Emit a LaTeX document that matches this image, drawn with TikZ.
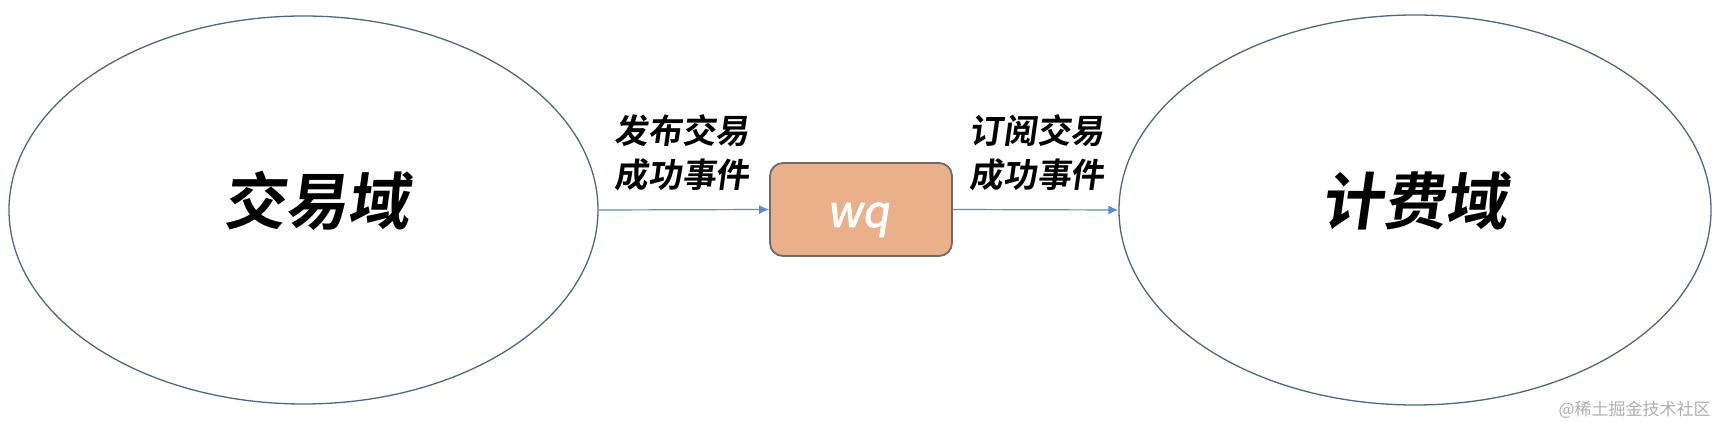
\documentclass[tikz,border=0pt]{standalone}
\usepackage{fontspec}
\newfontfamily\cjkb{Noto Sans CJK SC Bold}[FakeSlant=0.14]
\newfontfamily\cjkm{Noto Sans CJK SC}[FakeSlant=0.16, FakeBold=1.8]
\newfontfamily\cjkr{Noto Sans CJK SC}
\usetikzlibrary{shapes.geometric,arrows.meta}
\definecolor{ellline}{RGB}{80,102,132}
\definecolor{arrowblue}{RGB}{96,140,204}
\definecolor{boxfill}{RGB}{233,176,138}
\definecolor{boxline}{RGB}{108,108,108}
\definecolor{wmgray}{RGB}{175,175,175}
\tikzset{
  domainell/.style={ellipse, draw=ellline, line width=0.65pt, inner sep=0pt},
  domaintext/.style={font=\cjkb\fontsize{31pt}{34pt}\selectfont, text=black, inner sep=0pt},
  mqbox/.style={draw=boxline, fill=boxfill, line width=0.9pt, rounded corners=6.5pt,
    minimum width=91pt, minimum height=46.5pt, inner sep=0pt},
  mqtext/.style={font=\cjkm\fontsize{22pt}{24pt}\selectfont, text=white, inner sep=0pt, anchor=base},
  flow/.style={draw=arrowblue, line width=0.6pt, -{Latex[length=5pt,width=4.5pt]}},
  evlabel/.style={font=\cjkb\fontsize{16.8pt}{22pt}\selectfont, align=left, inner sep=0pt},
  watermark/.style={font=\cjkr\fontsize{8.5pt}{10pt}\selectfont, text=wmgray, inner sep=0pt}
}
\begin{document}
\begin{tikzpicture}[x=0.5pt,y=-0.5pt]
\useasboundingbox (0,0) rectangle (1720,422);
\fill[white] (0,0) rectangle (1720,422);
\node[domainell, minimum width=294.5pt, minimum height=194pt] (L) at (303.5,210) {};
\node[domainell, minimum width=296pt, minimum height=195pt] (R) at (1415,210) {};
\node[domaintext] (Lt) at (316,201) {交易域};
\node[domaintext] (Rt) at (1414,201) {计费域};
\node[mqbox] (Q) at (861,209.5) {};
\node[mqtext] (Qt) at (858,227) {wq};
\draw[flow] (L.east) -- (Q.west);
\draw[flow] (Q.east) -- (R.west);
\node[evlabel] (e1) at (682,153) {发布交易\\成功事件};
\node[evlabel] (e2) at (1037,153) {订阅交易\\成功事件};
\node[watermark, anchor=east] (wm) at (1711,410) {@稀土掘金技术社区};
\end{tikzpicture}
\end{document}
